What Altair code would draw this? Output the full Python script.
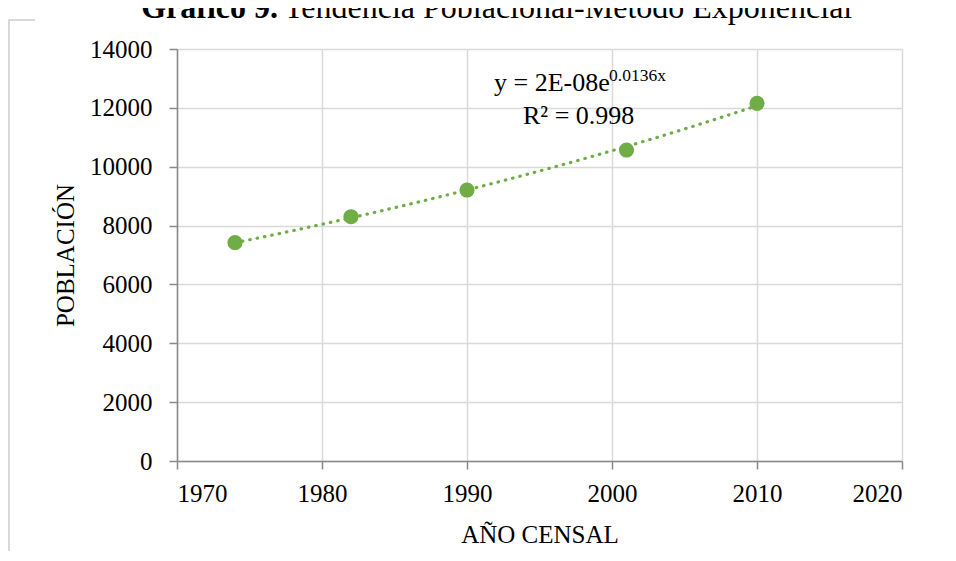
import altair as alt
import pandas as pd

# ---- data ----
years = [1974, 1982, 1990, 2001, 2010]
population = [7418, 8301, 9208, 10567, 12154]
x_ticks = [1970, 1980, 1990, 2000, 2010, 2020]
y_ticks = [0, 2000, 4000, 6000, 8000, 10000, 12000, 14000]

title_bold = ["Gráfico 9."]
title_rest = ["Tendencia Poblacional-Método Exponencial"]
eq_main = ["y = 2E-08e"]
eq_sup = ["0.0136x"]
eq_r2 = ["R² = 0.998"]

GREEN = "#70AD47"
FONT = "Liberation Serif"
GRID = "#d9d9d9"
AXIS = "#898989"

df = pd.DataFrame({"year": years, "pop": population})

common_axis = dict(
    labelFont=FONT, labelFontSize=25, labelColor="black",
    titleFont=FONT, titleFontSize=25, titleFontWeight="normal", titleColor="black",
    grid=True, gridColor=GRID, gridWidth=1.5,
    domainColor=AXIS, domainWidth=1.5, tickColor=AXIS, tickWidth=1.5, tickSize=8,
)

x_enc = alt.X(
    "year:Q",
    scale=alt.Scale(domain=[1970, 2020], nice=False, zero=False),
    axis=alt.Axis(
        values=x_ticks, format="d", title="AÑO CENSAL",
        labelPadding=12, titleY=81, titleBaseline="alphabetic", **common_axis,
    ),
)
y_enc = alt.Y(
    "pop:Q",
    scale=alt.Scale(domain=[0, 14000], nice=False),
    axis=alt.Axis(
        values=y_ticks, format="d", title="POBLACIÓN",
        labelPadding=17, titleX=-104, titleY=206, titleBaseline="alphabetic",
        titleAngle=-90, **common_axis,
    ),
)

base = alt.Chart(df)

trend = base.transform_regression("year", "pop", method="exp").mark_line(
    color=GREEN, strokeWidth=3.2, strokeDash=[0.5, 7], strokeCap="round"
).encode(x=x_enc, y=y_enc)

points = base.mark_circle(size=230, color=GREEN, opacity=1).encode(x=x_enc, y=y_enc)


def txt(values, x, y, size, weight="normal", align="left"):
    return alt.Chart(pd.DataFrame({"t": values})).mark_text(
        font=FONT, fontSize=size, fontWeight=weight, align=align,
        baseline="alphabetic", color="black",
    ).encode(text="t:N", x=alt.value(x), y=alt.value(y))


t_bold = txt(title_bold, 101, -31, 32, "bold", align="right")
t_rest = txt(title_rest, 107, -31, 32)
e1 = txt(eq_main, 317, 42, 26)
e2 = txt(eq_sup, 432, 32, 17.5)
e3 = txt(eq_r2, 346, 75, 26)

dummy = pd.DataFrame({"a": [0]})
border_v = alt.Chart(dummy).mark_rule(color=GRID, strokeWidth=2).encode(
    x=alt.value(-168), y=alt.value(-29), y2=alt.value(560)
)
border_h = alt.Chart(dummy).mark_rule(color=GRID, strokeWidth=2).encode(
    x=alt.value(-169), x2=alt.value(-142), y=alt.value(-29)
)

chart = alt.layer(
    border_v, border_h, trend, points, e1, e2, e3, t_bold, t_rest
).properties(
    width=725, height=412,
    padding={"left": 169, "top": 41, "right": 40, "bottom": 90},
    autosize=alt.AutoSizeParams(type="none"),
).configure_view(stroke=None).configure_axis(
    labelFont=FONT, titleFont=FONT,
)

chart.save("out.html", embed_options={"renderer": "svg", "actions": False})
